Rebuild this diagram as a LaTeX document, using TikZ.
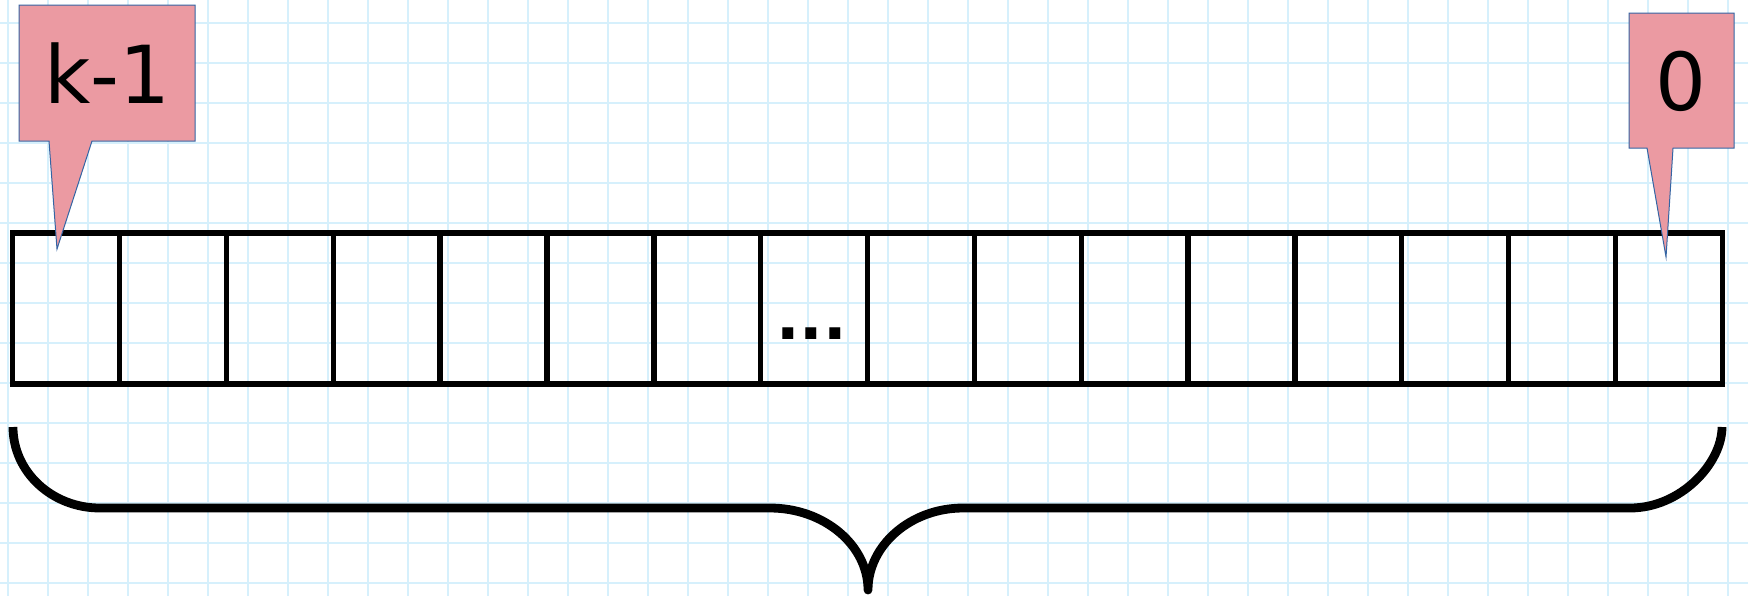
\documentclass[tikz,border=0pt]{standalone}
\usepackage{fontspec}
\setmainfont{DejaVu Sans}
\usepackage{tikz}
\usetikzlibrary{positioning}

\definecolor{gridblue}{RGB}{214,240,252}
\definecolor{calloutpink}{RGB}{235,154,162}
\definecolor{calloutblue}{RGB}{52,101,164}

\begin{document}
\begin{tikzpicture}[x=0.5pt,y=-0.5pt,
  cell/.style={draw,line width=2.7pt,minimum width=53.425pt,minimum height=75.5pt,inner sep=0pt},
  callout/.style={fill=calloutpink,draw=calloutblue,line width=0.5pt},
  lbl/.style={font=\fontsize{40}{48}\selectfont,inner sep=0pt,anchor=base},
  brace/.style={line width=4.4pt,line join=round},
  gridline/.style={gridblue,line width=1.2pt}
]
\useasboundingbox (0,0) rectangle (1748,596);
\fill[white] (0,0) rectangle (1748,596);
% Grid
\foreach \x in {0,...,43} \draw[gridline] ({8+40*\x},0) -- ({8+40*\x},596);
\foreach \y in {0,...,14} \draw[gridline] (0,{23+40*\y}) -- (1748,{23+40*\y});
% Brace
\coordinate (bl) at (13,427);
\coordinate (bm) at (868,590);
\coordinate (br) at (1722,427);
\draw[brace] (bl) .. controls (13,472) and (52,508) .. (100,508) -- (770,508)
  .. controls (824,508) and (868,545) .. (bm)
  .. controls (868,545) and (911,508) .. (963,508) -- (1630,508)
  .. controls (1681,508) and (1722,463) .. (br);
% Cells
\foreach \i in {0,...,15}
  \node[cell] (c\i) at ({12.7+106.85*(\i+0.5)},308.5) {};
\node[font=\fontsize{31}{36}\selectfont\bfseries,inner sep=0pt,anchor=base] (dots) at (811.7,339) {...};
% Callouts
\coordinate (tipk) at (57,249);
\coordinate (tipz) at (1666,257);
\draw[callout] (19,5) -- (195,5) -- (195,141) -- (92,141) -- (tipk) -- (49,141) -- (19,141) -- cycle;
\draw[callout] (1629,13) -- (1734,13) -- (1734,148) -- (1673,148) -- (tipz) -- (1647,148) -- (1629,148) -- cycle;
\node[lbl] (kmax) at (107.5,103) {k-1};
\node[lbl] (zero) at (1681,110.5) {0};
\end{tikzpicture}
\end{document}
